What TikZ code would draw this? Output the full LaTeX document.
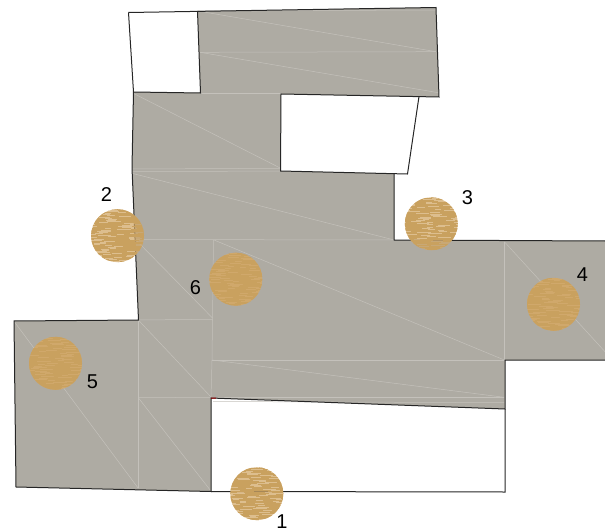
\documentclass[tikz,border=0pt]{standalone}
\usepackage{fontspec}
\setmainfont{Liberation Sans}
\usepackage{xcolor}
\definecolor{slabgray}{HTML}{AEABA3}
\definecolor{meshline}{HTML}{C4C1BB}
\definecolor{ballpale}{HTML}{D2A868}
\definecolor{ballbase}{HTML}{C9A15F}
\tikzset{
  slab/.style={fill=slabgray, draw=none},
  outline/.style={draw=black!85, line width=1pt, line join=miter},
  mesh/.style={draw=meshline, line width=0.5pt},
  numlabel/.style={font=\fontsize{20}{20}\selectfont, inner sep=0pt, text=black},
  ball/.style={circle, minimum size=53pt, inner sep=0pt, fill=ballpale, fill opacity=0.75,
    path picture={
      \pgfmathsetseed{#1}
      \foreach \dy in {-26.5,-25.5,...,26.5} {
        \pgfmathsetmacro{\ton}{18+random(30)}
        \pgfmathsetmacro{\toff}{5+random(9)}
        \pgfmathsetmacro{\tshift}{random(40)}
        \draw[ballbase, opacity=1, line width=1.1pt,
          dash pattern=on \ton pt off \toff pt, dash phase=\tshift pt]
          ([xshift=-30pt,yshift=\dy pt]path picture bounding box.center) --
          ([xshift=30pt,yshift=\dy pt]path picture bounding box.center);
      }
    }},
}
\begin{document}
\begin{tikzpicture}[x=1pt,y=-1pt]
\useasboundingbox (0,0) rectangle (605,532);
% Grey floor
\fill[slab] (197.5,11) -- (436,7.5) -- (439,97) -- (281,94) -- (280.5,171) -- (394,173.5)
  -- (394,240) -- (605,241) -- (605,360) -- (505,360) -- (505,409) -- (211,398)
  -- (211,491.5) -- (16,487) -- (14,321) -- (138.5,320) -- (132,168) -- (133.5,92)
  -- (200.5,93) -- cycle;
% Mesh, upper part
\draw[mesh] (198,11) -- (436,10);
\draw[mesh] (198,11) -- (436,51.7);
\draw[mesh] (200,52.3) -- (436,51.7);
\draw[mesh] (200,52.3) -- (438.3,92.7);
\draw[mesh] (200.5,93.3) -- (281,93.3);
\draw[mesh] (133.3,93.3) -- (280.7,168.3);
\draw[mesh] (132,169) -- (280.7,168.3);
\draw[mesh] (132,171.7) -- (280.7,171);
\draw[mesh] (132,173.3) -- (394.3,240);
\draw[mesh] (135,239.5) -- (394,240);
% Mesh, middle part
\draw[mesh] (213.5,240) -- (212,360) -- (211,398);
\draw[mesh] (214,240) -- (504.3,360);
\draw[mesh] (504.3,241.7) -- (504.3,360);
\draw[mesh] (212,360) -- (504.3,360);
\draw[mesh] (212,360) -- (504.3,397.3);
\draw[mesh] (212,397.3) -- (504.3,397.3);
\draw[mesh] (213,401.5) -- (504.3,402.7);
\draw[mesh] (504.3,241.7) -- (605,351.7);
\draw[mesh] (137,241) -- (212.5,318);
% Mesh, lower part
\draw[mesh] (138.3,320) -- (212.7,319.3);
\draw[mesh] (138.3,320) -- (210.7,396.7);
\draw[mesh] (138.3,320) -- (138.3,488);
\draw[mesh] (138.3,397.7) -- (210.7,397.3);
\draw[mesh] (138.3,397.7) -- (210.7,490.7);
\draw[mesh] (14.3,321.7) -- (138.3,488.3);
% Outlines
\draw[outline] (128.5,12.5) -- (436,7.5) -- (439,97) -- (281,94) -- (280.5,171) -- (407.5,174)
  -- (419,96.5);
\draw[outline] (197.5,11) -- (200.5,93) -- (133.5,92);
\draw[outline] (128.5,12.5) -- (133.5,92) -- (132,168) -- (138.5,320) -- (14,321) -- (16,487)
  -- (211,491.5) -- (211,398) -- (505,409) -- (505,360) -- (605,360);
\draw[outline] (394,173.5) -- (394,240) -- (605,241);
\draw[outline] (505,409) -- (505,492) -- (211,491.5);
\draw[red!60!black, line width=1pt] (211,398) -- (216,398.2);
% Balls
\node[ball=11] (ball1) at (256.8,493.7) {};
\node[ball=12] (ball2) at (117.5,235.7) {};
\node[ball=13] (ball3) at (431.3,223.8) {};
\node[ball=14, fill opacity=0.95] (ball4) at (553.5,304.3) {};
\node[ball=15, fill opacity=0.95] (ball5) at (55.5,363.3) {};
\node[ball=16, fill opacity=0.95] (ball6) at (235.8,279.2) {};
% Numbers
\node[numlabel] (num1) at (282,522) {1};
\node[numlabel] (num2) at (106.5,195) {2};
\node[numlabel] (num3) at (467.5,198) {3};
\node[numlabel] (num4) at (582.5,274.5) {4};
\node[numlabel] (num5) at (92.5,382) {5};
\node[numlabel] (num6) at (195.5,288) {6};
\end{tikzpicture}
\end{document}
